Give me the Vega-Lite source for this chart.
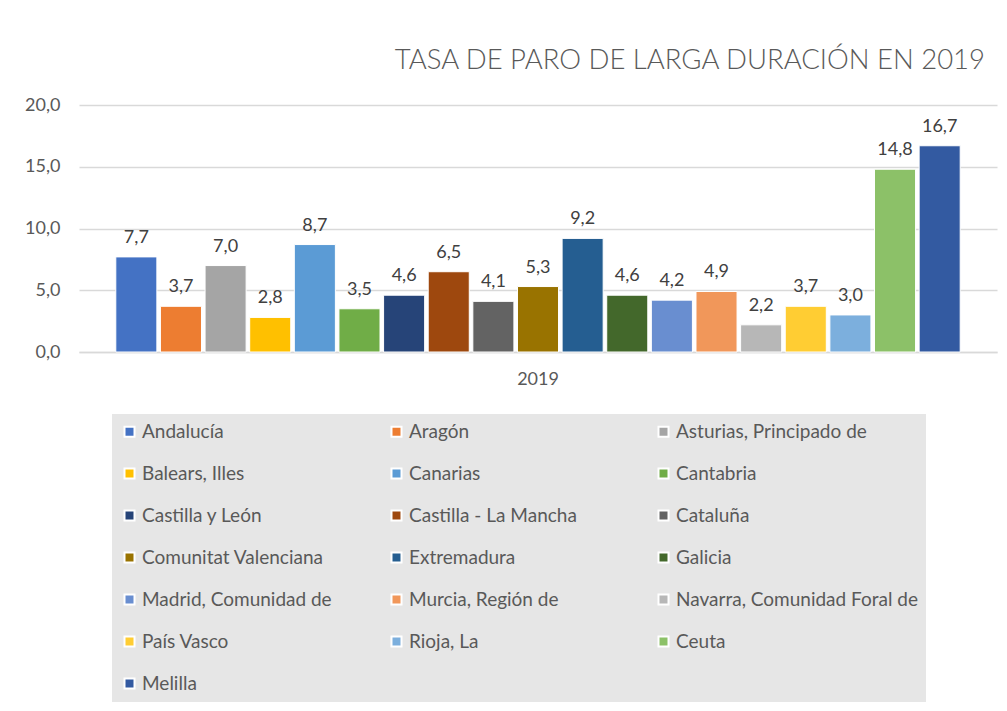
{
  "$schema": "https://vega.github.io/schema/vega-lite/v6.json",
  "autosize": {"type": "none"},
  "width": 918,
  "height": 247,
  "padding": {"left": 79, "top": 105, "right": 10, "bottom": 359},
  "background": "white",
  "config": {
    "locale": {"number": {"decimal": ",", "thousands": ".", "grouping": [3], "currency": ["", " €"]}},
    "view": {"stroke": null},
    "font": "Lato"
  },
  "title": {
    "text": "TASA DE PARO DE LARGA DURACIÓN EN 2019",
    "anchor": "end",
    "fontSize": 27.5,
    "fontWeight": 300,
    "color": "#595959",
    "font": "Lato",
    "offset": 22,
    "dx": -12
  },
  "data": {
    "values": [
      {"year": "2019", "region": "Andalucía", "value": 7.7},
      {"year": "2019", "region": "Aragón", "value": 3.7},
      {"year": "2019", "region": "Asturias, Principado de", "value": 7.0},
      {"year": "2019", "region": "Balears, Illes", "value": 2.8},
      {"year": "2019", "region": "Canarias", "value": 8.7},
      {"year": "2019", "region": "Cantabria", "value": 3.5},
      {"year": "2019", "region": "Castilla y León", "value": 4.6},
      {"year": "2019", "region": "Castilla - La Mancha", "value": 6.5},
      {"year": "2019", "region": "Cataluña", "value": 4.1},
      {"year": "2019", "region": "Comunitat Valenciana", "value": 5.3},
      {"year": "2019", "region": "Extremadura", "value": 9.2},
      {"year": "2019", "region": "Galicia", "value": 4.6},
      {"year": "2019", "region": "Madrid, Comunidad de", "value": 4.2},
      {"year": "2019", "region": "Murcia, Región de", "value": 4.9},
      {"year": "2019", "region": "Navarra, Comunidad Foral de", "value": 2.2},
      {"year": "2019", "region": "País Vasco", "value": 3.7},
      {"year": "2019", "region": "Rioja, La", "value": 3.0},
      {"year": "2019", "region": "Ceuta", "value": 14.8},
      {"year": "2019", "region": "Melilla", "value": 16.7}
    ]
  },
  "encoding": {
    "x": {
      "field": "year",
      "type": "nominal",
      "scale": {"paddingInner": 0, "paddingOuter": 0.0413},
      "axis": {
        "title": null,
        "labelAngle": 0,
        "labelFontSize": 18,
        "labelColor": "#595959",
        "labelPadding": 18,
        "ticks": false,
        "domainColor": "#d9d9d9",
        "domainWidth": 1.5
      }
    },
    "xOffset": {
      "field": "region",
      "type": "nominal",
      "sort": null,
      "scale": {"paddingInner": 0.08, "paddingOuter": 0.04}
    },
    "y": {
      "field": "value",
      "type": "quantitative",
      "scale": {"domain": [0, 20], "nice": false},
      "axis": {
        "title": null,
        "values": [0, 5, 10, 15, 20],
        "format": ".1f",
        "domain": false,
        "ticks": false,
        "labelFontSize": 18,
        "labelColor": "#595959",
        "labelPadding": 19,
        "gridColor": "#d9d9d9",
        "gridWidth": 1.5
      }
    }
  },
  "layer": [
    {
      "mark": {"type": "bar", "stroke": "white", "strokeWidth": 1},
      "encoding": {
        "color": {
          "field": "region",
          "type": "nominal",
          "sort": null,
          "scale": {
            "domain": ["Andalucía", "Aragón", "Asturias, Principado de", "Balears, Illes", "Canarias", "Cantabria", "Castilla y León", "Castilla - La Mancha", "Cataluña", "Comunitat Valenciana", "Extremadura", "Galicia", "Madrid, Comunidad de", "Murcia, Región de", "Navarra, Comunidad Foral de", "País Vasco", "Rioja, La", "Ceuta", "Melilla"],
            "range": ["#4472c4", "#ed7d31", "#a5a5a5", "#ffc000", "#5b9bd5", "#70ad47", "#264478", "#9e480e", "#636363", "#997300", "#255e91", "#43682b", "#698ed0", "#f1975a", "#b7b7b7", "#ffcd33", "#7cafdd", "#8cc168", "#335aa1"]
          },
          "legend": {
            "title": null,
            "orient": "none",
            "direction": "horizontal",
            "legendX": 33,
            "legendY": 309,
            "columns": 3,
            "gridAlign": "all",
            "columnPadding": 3,
            "rowPadding": 22,
            "padding": 8,
            "fillColor": "#e6e6e6",
            "symbolType": "square",
            "symbolSize": 100,
            "symbolStrokeColor": "white",
            "symbolStrokeWidth": 2,
            "symbolOpacity": 1,
            "labelFontSize": 19,
            "labelColor": "#595959",
            "labelFont": "Lato",
            "labelOffset": 3,
            "labelLimit": 400
          }
        }
      }
    },
    {
      "mark": {"type": "text", "baseline": "bottom", "dy": -10, "fontSize": 18, "color": "#404040", "font": "Lato"},
      "encoding": {
        "text": {"field": "value", "type": "quantitative", "format": ".1f"}
      }
    }
  ]
}
